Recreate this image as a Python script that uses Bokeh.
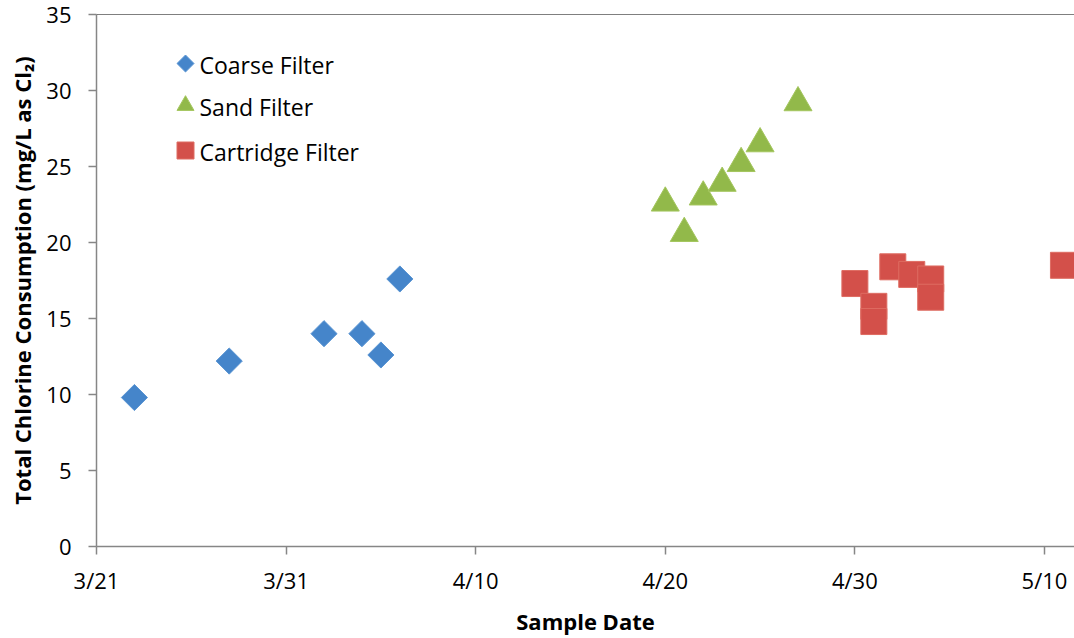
from datetime import datetime, timedelta
import math

from bokeh.plotting import figure
from bokeh.models import Range1d, FixedTicker, Span
from bokeh.core.properties import value
from bokeh.embed import file_html
from bokeh.resources import INLINE

YEAR = 2012

# Sample dates (month/day) and total chlorine consumption (mg/L as Cl2)
coarse_dates = ["3/23", "3/28", "4/2", "4/4", "4/5", "4/6"]
coarse_vals = [9.8, 12.2, 14.0, 14.0, 12.6, 17.6]

sand_dates = ["4/20", "4/21", "4/22", "4/23", "4/24", "4/25", "4/27"]
sand_vals = [22.6, 20.6, 23.0, 23.9, 25.2, 26.5, 29.2]

cartridge_dates = ["4/30", "5/1", "5/1", "5/2", "5/3", "5/4", "5/4", "5/11"]
cartridge_vals = [17.3, 15.8, 14.8, 18.4, 17.9, 17.6, 16.4, 18.5]

series_names = ["Coarse Filter", "Sand Filter", "Cartridge Filter"]

x_tick_labels = ["3/21", "3/31", "4/10", "4/20", "4/30", "5/10"]
y_ticks = [0, 5, 10, 15, 20, 25, 30, 35]


def to_dt(md):
    m, d = (int(v) for v in md.split("/"))
    return datetime(YEAR, m, d)


def to_ms(dt):
    return int((dt - datetime(1970, 1, 1)).total_seconds() * 1000)


FONT = "Open Sans"
AXIS_GREY = "#868686"
BLUE, BLUE_EDGE = "#4585CA", "#5A95D3"
GREEN, GREEN_EDGE = "#92B94A", "#A4C65E"
RED, RED_EDGE = "#D3504A", "#DE6C62"

FRAME_W, FRAME_H = 978, 532

x_start = to_dt(x_tick_labels[0])
x_end = to_dt("5/11") + timedelta(hours=14)

p = figure(
    width=1074, height=638,
    x_axis_type="datetime",
    x_range=Range1d(x_start, x_end),
    y_range=Range1d(0, 35),
    output_backend="svg",
    toolbar_location=None,
    min_border_left=96, min_border_right=0,
    min_border_top=14, min_border_bottom=92,
)
p.outline_line_color = None
p.xgrid.grid_line_color = None
p.ygrid.grid_line_color = None
p.background_fill_color = "white"
p.border_fill_color = "white"

# pixel-based ranges used only to place the legend block inside the frame
p.extra_x_ranges = {"key_x": Range1d(0, FRAME_W)}
p.extra_y_ranges = {"key_y": Range1d(FRAME_H, 0)}

# top border of the plot area
p.add_layout(Span(location=35, dimension="width", line_color="black", line_width=1))

p.scatter(
    [to_dt(d) for d in coarse_dates], coarse_vals,
    marker="square", angle=math.pi / 4, size=18.5,
    fill_color=BLUE, line_color=BLUE_EDGE, line_width=1,
)
p.scatter(
    [to_dt(d) for d in sand_dates], sand_vals,
    marker="triangle", size=28,
    fill_color=GREEN, line_color=GREEN_EDGE, line_width=1,
)
p.scatter(
    [to_dt(d) for d in cartridge_dates], cartridge_vals,
    marker="square", size=26,
    fill_color=RED, line_color=RED_EDGE, line_width=1,
)

# legend: keys and labels
key_x, text_x = 89, 103
key_y = [49, 91, 136]
p.scatter([key_x], [key_y[0]], marker="square", angle=math.pi / 4, size=12,
          fill_color=BLUE, line_color=BLUE_EDGE,
          x_range_name="key_x", y_range_name="key_y")
p.scatter([key_x], [key_y[1]], marker="triangle", size=17,
          fill_color=GREEN, line_color=GREEN_EDGE,
          x_range_name="key_x", y_range_name="key_y")
p.scatter([key_x], [key_y[2]], marker="square", size=17,
          fill_color=RED, line_color=RED_EDGE,
          x_range_name="key_x", y_range_name="key_y")
p.text([text_x] * 3, [y + 1 for y in key_y], text=series_names,
       text_font=value(FONT), text_font_size="23px", text_color="black",
       text_baseline="middle", text_align="left",
       x_range_name="key_x", y_range_name="key_y")

# axes
tick_ms = [to_ms(to_dt(t)) for t in x_tick_labels]
p.xaxis.ticker = FixedTicker(ticks=tick_ms)
p.xaxis.major_label_overrides = {ms: lab for ms, lab in zip(tick_ms, x_tick_labels)}
p.yaxis.ticker = FixedTicker(ticks=y_ticks)

for ax in (p.xaxis, p.yaxis):
    ax.axis_line_color = AXIS_GREY
    ax.axis_line_width = 1.5
    ax.major_tick_line_color = AXIS_GREY
    ax.major_tick_line_width = 1.5
    ax.major_tick_in = 0
    ax.major_tick_out = 8
    ax.minor_tick_line_color = None
    ax.major_label_text_font = FONT
    ax.major_label_text_font_size = "22px"
    ax.major_label_text_color = "black"
    ax.axis_label_text_font = FONT
    ax.axis_label_text_font_size = "22px"
    ax.axis_label_text_font_style = "bold"
    ax.axis_label_text_color = "black"

p.xaxis.axis_label = "Sample Date"
p.xaxis.major_label_standoff = 10
p.xaxis.axis_label_standoff = 8
p.yaxis.axis_label = "Total Chlorine Consumption (mg/L as Cl\u2082)"
p.yaxis.major_label_standoff = 17
p.yaxis.axis_label_standoff = 6

open("out.html", "w").write(file_html(p, INLINE))
